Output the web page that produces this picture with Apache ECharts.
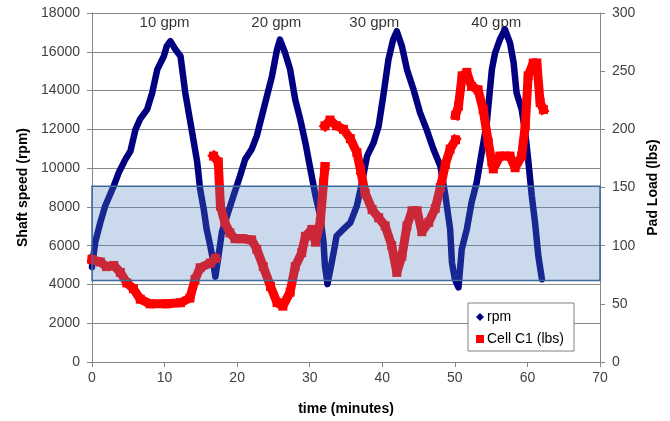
<!DOCTYPE html>
<html>
<head>
<meta charset="utf-8">
<script src="https://cdn.jsdelivr.net/npm/echarts@6/dist/echarts.min.js"></script>
<style>
  html, body { margin: 0; padding: 0; background: #fff; }
  #chart { width: 670px; height: 421px; }
</style>
</head>
<body>
<div id="chart"></div>
<script>
// Shaft speed (rpm) over time (minutes)
var rpmTime = [0, 0.45, 1.15, 1.8, 3.0, 3.7, 4.6, 5.3, 6.0, 6.6, 7.6, 8.3, 9.0, 9.9, 10.3, 10.8,
  11.5, 12.2, 12.85, 13.8, 14.5, 14.9, 15.4, 15.8, 16.3, 16.6, 17.0, 17.4, 17.9, 18.6, 19.5,
  20.4, 21.1, 22.0, 22.7, 23.4, 24.1, 24.8, 25.5, 25.9, 26.6, 27.3, 28.0, 28.7, 29.4, 30.1,
  30.8, 31.45, 31.9, 32.1, 32.45, 33.3, 33.7, 34.65, 35.6, 36.5, 37.2, 37.9, 38.8, 39.5,
  40.2, 40.85, 41.5, 42.0, 42.7, 43.4, 44.3, 45.2, 46.1, 47.05, 48.0, 48.7, 49.35, 49.6,
  50.0, 50.5, 50.95, 51.65, 52.3, 53.0, 53.7, 54.4, 55.1, 55.55, 56.2, 56.9, 57.6, 58.1,
  58.5, 59.2, 59.7, 60.1, 60.6, 61.05, 61.5, 62.0];
var rpmValue = [4900, 6180, 7200, 8030, 9080, 9780, 10450, 10880, 12000, 12510, 13030, 13890,
  15090, 15770, 16290, 16550, 16120, 15770, 13890, 11840, 10300, 8910, 7880, 6850, 5990, 5400,
  4400, 5400, 6700, 7530, 8570, 9590, 10450, 10970, 11650, 12680, 13710, 14740, 16120, 16630,
  15950, 15090, 13540, 12510, 11310, 9940, 8570, 7530, 6180, 4960, 4020, 5650, 6500, 6850,
  7190, 8050, 9250, 10620, 11310, 12170, 13890, 15600, 16630, 17060, 16290, 15090, 14060,
  12860, 12000, 10970, 10110, 8570, 6850, 5130, 4270, 3850, 5820, 6850, 8220, 9250, 10800,
  12340, 15090, 15950, 16630, 17150, 16460, 15430, 13890, 13030, 11830, 10450, 8570, 7190,
  5470, 4270];

// Load cell C1 (lbs); null marks a break between recorded runs
var cellTime = [0, 1.15, 2.0, 3.0, 3.9, 4.8, 5.7, 6.65, 8.0, 10.3, 12.2, 13.5, 14.2, 14.9, 16.3, 17.0,
  16.9,
  16.75, 17.4, 17.7, 18.3, 19.0, 19.7, 20.8, 22.0, 22.7, 23.6, 24.6, 25.5, 26.3, 27.3, 28.0,
  28.9, 29.4, 30.3, 30.8, 31.45, 31.9, 32.1,
  32.1,
  32.1, 32.8, 33.7, 34.65, 35.6, 36.5, 37.0, 37.65, 38.6, 39.5, 40.4, 41.3, 42.0, 42.7, 43.4,
  44.1, 44.8, 45.45, 46.4, 47.3, 48.0, 48.7, 49.35, 50.1,
  50.1,
  50.1, 50.5, 51.0, 51.65, 52.3, 53.2, 53.9, 54.6, 55.1, 55.3, 56.2, 57.6, 58.3, 59.2, 59.7,
  60.1, 60.8, 61.3, 61.75, 62.2];
var cellLoad = [88, 86, 82, 83, 77, 68, 63, 54, 50, 50, 51, 55, 71, 81, 85, 89,
  null,
  177, 172, 134, 120, 111, 106, 106, 105, 97, 82, 65, 51, 48, 60, 82,
  94, 108, 114, 103, 120, 154, 168,
  null,
  203, 208, 203, 200, 192, 180, 165, 145, 131, 124, 117, 100, 77, 91, 117,
  130, 130, 112, 120, 132, 150, 170, 183, 191,
  null,
  212, 220, 246, 249, 237, 234, 217, 189, 172, 166, 177, 177, 167, 177, 203,
  246, 257, 257, 223, 217];

// Flow-rate annotations
var gpmLabels = ['10 gpm', '20 gpm', '30 gpm', '40 gpm'];
var gpmTime = [10.0, 25.4, 38.9, 55.7];
var gpmRpm = [17500, 17500, 17500, 17500];

// Shaded load band (lbs)
var bandLow = 70;
var bandHigh = 151;

var FONT = '"Liberation Sans", Arial, sans-serif';
var AXIS_GRAY = '#868686';

var rpmData = rpmTime.map(function (t, i) { return [t, rpmValue[i]]; });
var cellData = cellTime.map(function (t, i) {
  return cellLoad[i] === null ? [t, '-'] : [t, cellLoad[i]];
});
var gpmData = gpmTime.map(function (t, i) {
  return { name: gpmLabels[i], value: [t, gpmRpm[i]] };
});

function plain(v) { return String(v); }

// Translucent band spanning the full time range, drawn over both traces
function renderBand(params, api) {
  var cs = params.coordSys;
  var top = api.coord([0, api.value(1)])[1];
  var bottom = api.coord([0, api.value(0)])[1];
  return {
    type: 'rect',
    shape: { x: cs.x, y: top, width: cs.width, height: bottom - top },
    style: {
      fill: 'rgba(79,129,189,0.3)',
      stroke: '#3e6a9c',
      lineWidth: 1.5
    }
  };
}

var chart = echarts.init(document.getElementById('chart'), null, { renderer: 'canvas' });
chart.setOption({
  animation: false,
  textStyle: { fontFamily: FONT },
  grid: { left: 92, right: 70, top: 13, bottom: 58 },
  legend: {
    orient: 'vertical',
    left: 468,
    top: 303,
    padding: [7, 10, 5, 8],
    itemGap: 8,
    itemWidth: 8,
    itemHeight: 8,
    backgroundColor: '#fff',
    borderColor: '#808080',
    borderWidth: 1,
    borderRadius: 0,
    textStyle: { fontFamily: FONT, fontSize: 14, color: '#000', padding: [0, 0, 0, -2] },
    data: [
      { name: 'rpm', icon: 'diamond' },
      { name: 'Cell C1 (lbs)', icon: 'rect' }
    ]
  },
  xAxis: {
    type: 'value',
    min: 0, max: 70, interval: 10,
    name: 'time (minutes)',
    nameLocation: 'middle',
    nameGap: 40,
    nameTextStyle: { fontFamily: FONT, fontSize: 14, fontWeight: 'bold', color: '#000' },
    axisLine: { show: true, lineStyle: { color: AXIS_GRAY, width: 1 } },
    axisTick: { show: true, length: 5, lineStyle: { color: AXIS_GRAY } },
    axisLabel: { fontFamily: FONT, fontSize: 14, color: '#404040', margin: 9, formatter: plain },
    splitLine: { show: false }
  },
  yAxis: [
    {
      type: 'value',
      min: 0, max: 18000, interval: 2000,
      name: 'Shaft speed (rpm)',
      nameLocation: 'middle',
      nameRotate: 90,
      nameGap: 62,
      nameTextStyle: { fontFamily: FONT, fontSize: 14, fontWeight: 'bold', color: '#000' },
      axisLine: { show: true, lineStyle: { color: AXIS_GRAY, width: 1 } },
      axisTick: { show: true, length: 5, lineStyle: { color: AXIS_GRAY } },
      axisLabel: { fontFamily: FONT, fontSize: 14, color: '#404040', margin: 12, formatter: plain },
      splitLine: { show: true, lineStyle: { color: '#8a8a8a', width: 1 } }
    },
    {
      type: 'value',
      position: 'right',
      min: 0, max: 300, interval: 50,
      name: 'Pad Load (lbs)',
      nameLocation: 'middle',
      nameRotate: 90,
      nameGap: 42,
      nameTextStyle: { fontFamily: FONT, fontSize: 14, fontWeight: 'bold', color: '#000' },
      axisLine: { show: true, lineStyle: { color: AXIS_GRAY, width: 1 } },
      axisTick: { show: true, length: 5, lineStyle: { color: AXIS_GRAY } },
      axisLabel: { fontFamily: FONT, fontSize: 14, color: '#404040', margin: 12, formatter: plain },
      splitLine: { show: false }
    }
  ],
  series: [
    {
      name: 'rpm',
      type: 'line',
      yAxisIndex: 0,
      data: rpmData,
      symbol: 'none',
      itemStyle: { color: '#000080' },
      lineStyle: { color: '#000080', width: 6.5, join: 'round', cap: 'round' },
      z: 2
    },
    {
      name: 'Cell C1 (lbs)',
      type: 'line',
      yAxisIndex: 1,
      data: cellData,
      connectNulls: false,
      symbol: 'rect',
      symbolSize: 9,
      showSymbol: true,
      itemStyle: { color: '#ff0000' },
      lineStyle: { color: '#ff0000', width: 9, join: 'bevel', cap: 'square' },
      z: 3
    },
    {
      name: 'band',
      type: 'custom',
      yAxisIndex: 1,
      silent: true,
      renderItem: renderBand,
      data: [[bandLow, bandHigh]],
      encode: { y: [0, 1] },
      z: 10
    },
    {
      name: 'gpm',
      type: 'scatter',
      yAxisIndex: 0,
      data: gpmData,
      symbolSize: 1,
      silent: true,
      itemStyle: { color: 'rgba(0,0,0,0)' },
      label: {
        show: true,
        position: 'inside',
        formatter: '{b}',
        fontFamily: FONT,
        fontSize: 15,
        color: '#000'
      },
      z: 1
    }
  ]
});
</script>
</body>
</html>
